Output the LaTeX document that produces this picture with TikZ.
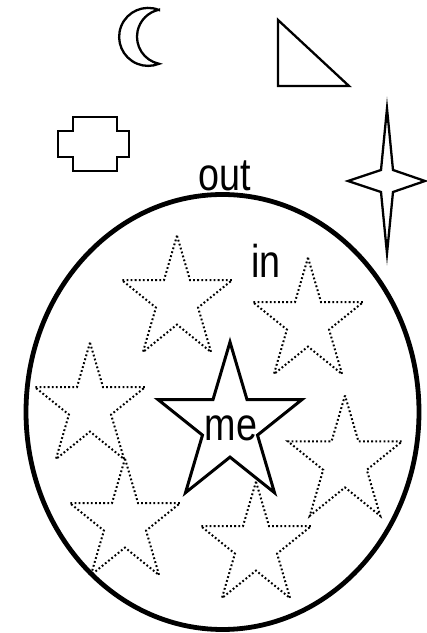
\documentclass[tikz,border=0pt]{standalone}
\usepackage{fontspec}
\usepackage{tikz}
\usetikzlibrary{shapes.geometric}
\newfontfamily\narrowsans[FakeStretch=0.82]{Liberation Sans}

\begin{document}
\begin{tikzpicture}[x=1pt, y=1pt,
    lbl/.style={font=\narrowsans\fontsize{46}{50}\selectfont, inner sep=0pt, anchor=base},
    ring/.style={ellipse, draw, line width=4.8pt, minimum width=393pt,
                 minimum height=435pt, inner sep=0pt},
    shp/.style={line width=2.3pt, line join=miter, miter limit=12},
    dotstar/.style={yscale=1.11, line width=2pt, dash pattern=on 1.8pt off 2.3pt},
    mestar/.style={yscale=1.1, line width=3pt},
    pics/fivestar/.style={code={
      \draw (90:#1) \foreach \k in {1,...,9}{ -- ({90+36*\k}:{#1*(1-0.618*mod(\k,2))}) } -- cycle;
    }}
  ]
  \useasboundingbox (0,0) rectangle (427,633);

  % things outside
  \draw[shp] (159,623) arc[start angle=68, end angle=292, radius=29]
                       arc[start angle=258.3, end angle=101.7, radius=27.6] -- cycle;
  \draw[shp] (278,613) -- (278,547) -- (349,547) -- cycle;
  \draw[shp] (73,516) -- (117,516) -- (117,502) -- (129,502) -- (129,476) -- (117,476)
             -- (117,462) -- (73,462) -- (73,476) -- (58,476) -- (58,502) -- (73,502) -- cycle;
  \draw[shp] (387,524.5) -- (393,463) -- (425,452) -- (393,441) -- (387,379.5)
             -- (381,441) -- (348,452) -- (381,463) -- cycle;

  \node[ring] (ring) at (222.5,221) {};
  \node[lbl] (outlbl) at (225,442) {out};
  \node[lbl] (inlbl) at (266,355) {in};

  % the stars inside
  \pic[dotstar] (starA) at (177,333) {fivestar=58};
  \pic[dotstar] (starB) at (308,311) {fivestar=58};
  \pic[dotstar] (starC) at (90,226) {fivestar=58};
  \pic[dotstar] (starD) at (125,110) {fivestar=58};
  \pic[dotstar] (starE) at (345,171) {fivestar=60};
  \pic[dotstar] (starF) at (256,87) {fivestar=58};

  \pic[mestar] (starMe) at (230,207.7) {fivestar=75.7};
  \node[lbl] (melbl) at (231,192) {me};
\end{tikzpicture}
\end{document}
